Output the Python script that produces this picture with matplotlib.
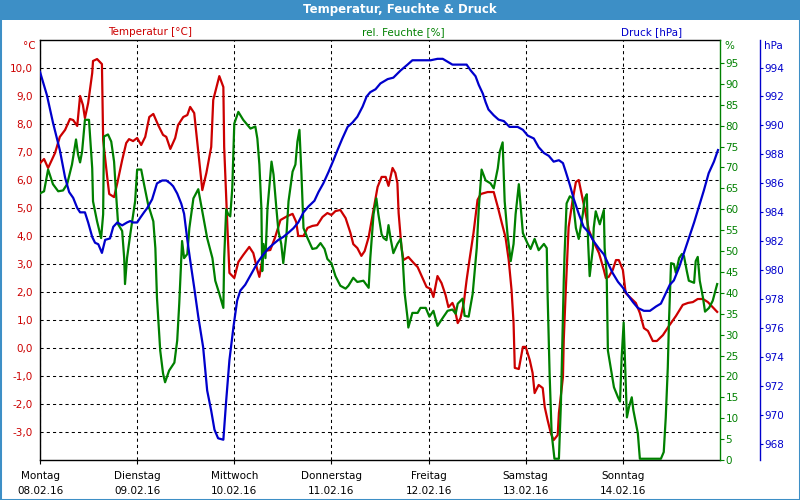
import matplotlib
matplotlib.use("Agg")
import matplotlib.pyplot as plt
from matplotlib.patches import Rectangle

# ---------------- data (hours since Monday 00:00) ----------------
temp_hours = [0.0, 1.0, 2.0, 3.7, 4.9, 6.2, 7.4, 8.2, 9.2, 9.9, 10.6, 11.1, 11.9, 12.9, 13.1, 14.1, 15.3, 15.6,
              16.6, 17.1, 18.3, 19.1, 20.3, 21.3, 22.0, 23.0, 24.0, 25.0, 26.0, 27.0, 28.0, 29.2, 30.4, 31.2,
              32.2, 33.4, 34.1, 35.4, 36.4, 37.1, 38.1, 38.8, 40.1, 41.1, 42.3, 42.8, 44.3, 45.3, 45.5, 46.3,
              46.8, 48.0, 49.0, 50.2, 51.7, 52.7, 53.7, 54.2, 54.9, 55.2, 56.9, 58.1, 59.4, 61.1, 62.4, 63.3,
              63.8, 65.1, 66.1, 67.3, 68.5, 69.8, 71.0, 72.0, 73.0, 74.2, 75.5, 76.7, 77.4, 78.4, 79.4, 80.2,
              81.2, 82.4, 83.4, 84.4, 85.4, 86.1, 87.1, 87.8, 88.3, 88.6, 89.3, 89.8, 91.0, 92.3, 93.3, 94.5,
              95.5, 96.5, 97.2, 98.2, 99.2, 100.2, 100.9, 101.9, 102.4, 103.2, 103.9, 104.7, 105.4, 106.1,
              107.1, 108.1, 108.9, 110.6, 112.1, 113.1, 114.1, 115.0, 115.8, 116.5, 117.0, 117.3, 118.3,
              119.3, 120.0, 121.0, 121.7, 122.2, 123.2, 124.2, 124.7, 125.4, 126.2, 126.9, 127.9, 128.2,
              129.2, 129.4, 129.9, 130.6, 131.6, 132.4, 133.1, 134.1, 134.8, 135.6, 136.8, 138.1, 139.3,
              139.8, 140.5, 141.5, 142.3, 143.0, 144.0, 144.7, 145.9, 147.2, 148.2, 149.2, 150.2, 151.4,
              152.4, 153.9, 155.4, 157.1, 158.8, 160.1, 161.3, 162.5, 163.8, 165.0, 166.2, 167.3]
temp_values = [6.6, 6.75, 6.43, 6.96, 7.54, 7.79, 8.18, 8.14, 7.93, 9.0, 8.68, 8.21, 8.75, 9.82, 10.25, 10.32, 10.14,
               7.43, 6.11, 5.5, 5.39, 5.89, 6.71, 7.32, 7.46, 7.39, 7.5, 7.25, 7.54, 8.25, 8.36, 7.96, 7.61,
               7.54, 7.11, 7.5, 7.96, 8.25, 8.32, 8.61, 8.39, 7.43, 5.64, 6.25, 7.18, 8.86, 9.71, 9.32, 7.18,
               4.32, 2.68, 2.5, 3.07, 3.32, 3.61, 3.39, 2.79, 2.54, 3.14, 3.46, 3.5, 3.96, 4.57, 4.71, 4.79,
               4.5, 4.0, 4.0, 4.29, 4.36, 4.39, 4.68, 4.82, 4.75, 4.89, 4.93, 4.64, 4.11, 3.71, 3.57, 3.29,
               3.46, 3.96, 4.93, 5.75, 6.11, 6.11, 5.79, 6.43, 6.25, 5.89, 4.82, 3.61, 3.14, 3.25, 3.04, 2.89,
               2.5, 2.18, 2.11, 1.82, 2.57, 2.32, 1.89, 1.46, 1.61, 1.43, 0.89, 1.07, 1.61, 2.43, 3.14, 4.11,
               5.29, 5.5, 5.57, 5.57, 5.04, 4.46, 3.96, 3.14, 2.07, 0.89, -0.71, -0.75, 0.04, 0.04, -0.43,
               -0.89, -1.61, -1.32, -1.43, -2.11, -2.57, -3.04, -3.29, -3.11, -2.32, -1.04, 0.29, 2.07, 4.32,
               5.29, 5.93, 6.0, 5.29, 4.82, 4.21, 3.79, 3.39, 2.79, 2.5, 2.54, 2.79, 3.14, 3.14, 2.79, 1.96,
               1.79, 1.61, 1.25, 0.71, 0.61, 0.25, 0.25, 0.46, 0.79, 1.14, 1.54, 1.61, 1.64, 1.75, 1.75, 1.64,
               1.46, 1.29]

hum_hours = [0.0, 1.0, 2.0, 3.2, 4.5, 5.7, 6.7, 7.9, 8.9, 9.4, 9.9, 10.4, 11.1, 12.1, 12.9, 13.1, 14.1, 15.1, 15.6,
             15.8, 16.8, 17.6, 18.3, 18.8, 19.3, 20.3, 20.8, 21.0, 21.5, 22.3, 23.5, 24.0, 25.0, 25.7, 26.7,
             28.0, 28.5, 28.9, 29.7, 30.4, 30.9, 31.9, 33.2, 33.9, 34.4, 35.1, 35.6, 36.4, 36.9, 37.9, 39.1,
             40.1, 41.3, 42.6, 43.3, 44.3, 45.3, 45.5, 46.0, 46.5, 47.0, 47.5, 48.0, 49.0, 50.2, 52.0, 53.2,
             53.7, 54.2, 54.7, 54.9, 55.2, 55.7, 56.2, 57.2, 57.7, 58.4, 58.9, 59.6, 60.1, 60.9, 61.4, 62.4,
             63.1, 63.6, 64.1, 64.6, 65.1, 66.1, 67.3, 68.3, 69.3, 70.3, 71.0, 72.0, 73.0, 74.2, 75.5, 76.2,
             77.4, 78.4, 79.9, 81.2, 81.6, 82.4, 83.1, 83.6, 84.4, 84.9, 85.6, 86.1, 86.6, 87.3, 88.3, 89.1,
             89.6, 90.1, 90.8, 91.0, 92.0, 93.3, 94.0, 95.3, 96.2, 97.2, 98.2, 99.5, 100.7, 101.9, 102.7,
             103.2, 104.4, 104.9, 105.9, 106.9, 107.9, 108.4, 109.1, 110.1, 111.3, 112.1, 113.1, 113.6,
             114.3, 114.8, 115.5, 116.3, 117.0, 117.5, 118.3, 119.3, 120.5, 121.2, 122.2, 123.2, 124.5,
             125.2, 125.4, 125.9, 126.4, 126.9, 127.1, 128.2, 128.7, 129.4, 129.6, 130.1, 130.9, 131.6,
             132.4, 133.1, 134.1, 134.6, 135.1, 135.4, 135.8, 136.6, 136.8, 137.3, 137.8, 138.3, 139.0,
             139.3, 139.5, 140.0, 140.3, 141.0, 141.8, 142.8, 143.3, 143.7, 144.2, 144.5, 145.0, 145.5,
             146.2, 146.6, 147.7, 148.2, 149.7, 153.4, 154.1, 154.6, 155.1, 155.4, 155.9, 156.6, 157.1,
             157.9, 158.6, 159.1, 159.8, 160.3, 161.6, 162.0, 162.5, 163.0, 163.8, 164.3, 165.3, 166.2, 167.3]
hum_values = [63.8, 64.3, 69.5, 66.0, 64.3, 64.5, 66.0, 70.7, 76.7, 73.1, 71.2, 73.8, 81.4, 81.4, 69.8, 61.9, 57.1,
              53.1, 58.8, 77.4, 77.9, 76.2, 71.4, 63.6, 56.4, 54.8, 48.3, 42.1, 48.3, 54.0, 61.9, 69.5, 69.5,
              66.0, 61.2, 57.1, 50.7, 38.8, 26.2, 20.7, 18.6, 21.4, 23.3, 28.6, 37.4, 52.4, 48.3, 49.3, 55.5,
              62.6, 64.8, 59.5, 53.1, 48.3, 42.9, 39.8, 36.4, 48.3, 60.0, 58.8, 58.3, 65.0, 80.5, 83.3, 81.4,
              79.3, 79.8, 76.9, 70.7, 60.2, 45.2, 51.7, 48.3, 60.2, 71.4, 68.3, 60.2, 54.8, 51.7, 47.1, 54.0,
              61.9, 69.0, 70.7, 76.2, 79.0, 68.3, 55.5, 53.1, 50.5, 50.7, 51.9, 50.5, 48.1, 47.1, 44.0, 41.7,
              41.0, 41.7, 43.6, 42.6, 42.9, 41.2, 48.3, 58.8, 62.6, 58.8, 54.0, 53.1, 52.6, 56.2, 53.1, 49.5,
              51.7, 52.9, 48.3, 39.8, 34.0, 31.7, 35.2, 35.2, 36.4, 36.4, 34.3, 35.7, 32.1, 34.0, 35.7, 36.0,
              35.0, 37.4, 38.6, 34.5, 34.3, 39.8, 50.7, 60.2, 69.5, 66.9, 66.2, 65.0, 69.8, 73.8, 76.0, 61.9,
              54.0, 47.6, 51.7, 58.8, 66.0, 54.3, 51.7, 50.5, 52.9, 50.2, 51.7, 50.7, 39.8, 20.7, 6.4, 2.0,
              0.3, 0.3, 13.6, 42.9, 49.3, 61.4, 63.1, 62.6, 55.5, 52.9, 58.8, 62.6, 63.6, 52.4, 44.0, 50.7,
              55.5, 59.5, 57.9, 56.4, 58.8, 59.8, 50.7, 44.5, 26.2, 22.1, 17.4, 15.0, 14.0, 24.5, 32.9, 24.5,
              10.2, 12.6, 15.0, 11.9, 6.4, 0.3, 0.3, 0.3, 1.9, 10.2, 22.1, 33.3, 47.1, 46.9, 44.8, 48.3, 49.3,
              48.8, 45.2, 42.9, 42.4, 47.6, 48.6, 42.9, 38.8, 35.5, 36.4, 38.1, 42.1]

pres_hours = [0.0, 1.7, 3.2, 4.9, 6.2, 7.2, 8.2, 9.2, 9.9, 11.1, 11.9, 12.9, 13.6, 14.4, 15.3, 16.1, 17.3, 18.1,
              19.1, 20.3, 21.5, 22.3, 23.0, 24.0, 24.7, 25.7, 26.5, 27.7, 28.9, 30.2, 31.2, 32.2, 32.9, 33.9,
              34.9, 35.6, 36.4, 37.1, 38.1, 39.1, 40.3, 41.3, 42.3, 43.1, 44.0, 45.3, 46.0, 46.8, 47.8, 48.7,
              49.5, 50.7, 51.7, 52.7, 53.9, 55.2, 56.4, 57.6, 58.9, 60.1, 61.4, 62.6, 63.8, 65.1, 66.3, 67.8,
              68.8, 70.0, 71.3, 72.5, 73.5, 74.7, 76.0, 77.2, 78.4, 79.7, 80.7, 81.6, 82.9, 84.1, 85.9, 87.3,
              89.1, 90.8, 92.0, 94.0, 96.5, 98.2, 99.5, 100.7, 101.9, 103.4, 105.4, 106.4, 107.6, 108.4,
              109.4, 110.1, 110.8, 112.1, 113.3, 114.6, 116.0, 118.0, 119.3, 120.5, 122.0, 123.2, 124.5,
              125.7, 126.9, 128.2, 129.2, 129.9, 130.9, 131.9, 133.1, 134.3, 135.6, 136.8, 138.1, 139.3,
              140.3, 141.5, 142.8, 144.0, 145.2, 146.5, 147.7, 149.2, 150.7, 152.2, 153.4, 154.6, 155.6,
              156.6, 157.9, 159.1, 160.3, 161.6, 162.8, 164.0, 165.2, 166.5, 167.5]
pres_values = [993.7, 992.1, 990.2, 988.3, 986.4, 985.4, 985.0, 984.3, 984.0, 984.0, 983.3, 982.3, 981.9, 981.8,
               981.2, 982.1, 982.2, 983.0, 983.3, 983.1, 983.3, 983.4, 983.3, 983.3, 983.6, 984.0, 984.3,
               984.9, 986.0, 986.2, 986.2, 986.0, 985.8, 985.3, 984.6, 983.9, 982.1, 980.7, 978.8, 976.8,
               974.7, 971.7, 970.3, 969.0, 968.4, 968.3, 971.0, 973.8, 976.1, 977.9, 978.6, 979.0, 979.5,
               980.0, 980.6, 981.1, 981.5, 981.8, 982.1, 982.3, 982.6, 982.9, 983.3, 984.0, 984.4, 984.8,
               985.4, 986.0, 986.8, 987.6, 988.3, 989.1, 989.9, 990.2, 990.6, 991.3, 992.0, 992.3, 992.5,
               992.9, 993.2, 993.3, 993.8, 994.2, 994.5, 994.5, 994.5, 994.6, 994.6, 994.4, 994.2, 994.2,
               994.2, 993.8, 993.4, 992.8, 992.2, 991.6, 991.1, 990.7, 990.4, 990.3, 989.9, 989.9, 989.7,
               989.3, 989.1, 988.5, 988.1, 987.9, 987.5, 987.6, 987.4, 986.8, 985.9, 984.9, 983.9, 983.0,
               982.6, 982.0, 981.5, 981.1, 980.5, 979.8, 979.2, 978.8, 978.3, 977.8, 977.4, 977.2, 977.2,
               977.5, 977.7, 978.4, 979.0, 979.3, 980.2, 981.2, 982.2, 983.3, 984.4, 985.5, 986.7, 987.5,
               988.3]

day_names = ["Montag", "Dienstag", "Mittwoch", "Donnerstag", "Freitag", "Samstag", "Sonntag"]
day_dates = ["08.02.16", "09.02.16", "10.02.16", "11.02.16", "12.02.16", "13.02.16", "14.02.16"]
temp_ticks = list(range(-3, 11))
hum_ticks = list(range(0, 100, 5))
pres_ticks = list(range(968, 996, 2))

# ---------------- style ----------------
RED = "#cc0000"
GREEN = "#008000"
BLUE = "#0000cc"
FRAME = "#3d8fc6"
FS = 7.5

plt.rcParams['font.family'] = ['DejaVu Sans']

fig = plt.figure(figsize=(8, 5), dpi=100)
fig.patch.set_facecolor("white")

# title bar and frame
fig.add_artist(Rectangle((0, 1 - 20 / 500), 1, 20 / 500, transform=fig.transFigure,
                         facecolor=FRAME, edgecolor="none", zorder=0))
fig.add_artist(Rectangle((0, 0), 1, 1, transform=fig.transFigure, fill=False,
                         edgecolor=FRAME, linewidth=2.2, zorder=0))
fig.text(0.5, 1 - 10 / 500, "Temperatur, Feuchte & Druck", color="white", fontsize=8.5,
         fontweight="bold", ha="center", va="center")

L, R, T, B = 40, 720, 40, 460
ax = fig.add_axes([L / 800, (500 - B) / 500, (R - L) / 800, (B - T) / 500])
ax.set_facecolor("white")
ax.set_xlim(0, 168)
ax.set_ylim(-4, 11)

ax.set_yticks(temp_ticks)
ax.set_yticklabels([f"{v:.1f}".replace(".", ",") for v in temp_ticks])
ax.tick_params(axis="y", length=0, colors=RED, labelsize=FS, pad=5)
ax.set_xticks([24 * i for i in range(7)])
ax.set_xticklabels([f"{n}\n{d}" for n, d in zip(day_names, day_dates)], linespacing=1.55)
ax.tick_params(axis="x", length=3, direction="out", labelsize=FS, pad=5, colors="black")
ax.grid(True, color="black", linestyle=(0, (3, 3)), linewidth=0.75)
ax.set_axisbelow(True)
for s in ["left", "top", "bottom"]:
    ax.spines[s].set_color("black")
    ax.spines[s].set_linewidth(1.0)
ax.spines["right"].set_visible(False)

ax.plot(temp_hours, temp_values, color=RED, linewidth=1.6, zorder=3)

ax2 = ax.twinx()
ax2.set_ylim(0, 100.5)
ax2.set_yticks(hum_ticks)
ax2.tick_params(axis="y", colors=GREEN, length=3, labelsize=FS, pad=1)
for s in ["left", "top", "bottom"]:
    ax2.spines[s].set_visible(False)
ax2.spines["right"].set_color(GREEN)
ax2.spines["right"].set_linewidth(1.0)
ax2.plot(hum_hours, hum_values, color=GREEN, linewidth=1.6)

ax3 = ax.twinx()
ax3.set_ylim(966.9, 995.9)
ax3.set_yticks(pres_ticks)
ax3.spines["right"].set_position(("axes", 1 + 40 / 680))
for s in ["left", "top", "bottom"]:
    ax3.spines[s].set_visible(False)
ax3.spines["right"].set_color(BLUE)
ax3.spines["right"].set_linewidth(1.0)
ax3.tick_params(axis="y", colors=BLUE, length=2, labelsize=FS, pad=1)
ax3.plot(pres_hours, pres_values, color=BLUE, linewidth=1.6)

# unit labels and series headers
fig.text(36 / 800, 1 - 46 / 500, "°C", color=RED, fontsize=FS, ha="right", va="center")
fig.text(724 / 800, 1 - 46 / 500, "%", color=GREEN, fontsize=FS, ha="left", va="center")
fig.text(764 / 800, 1 - 46 / 500, "hPa", color=BLUE, fontsize=FS, ha="left", va="center")
fig.text(150 / 800, 1 - 32 / 500, "Temperatur [°C]", color=RED, fontsize=FS, ha="center", va="center")
fig.text(403 / 800, 1 - 32 / 500, "rel. Feuchte [%]", color=GREEN, fontsize=FS, ha="center", va="center")
fig.text(652 / 800, 1 - 32 / 500, "Druck [hPa]", color=BLUE, fontsize=FS, ha="center", va="center")

fig.savefig("out.png", dpi=100, facecolor=fig.get_facecolor())
